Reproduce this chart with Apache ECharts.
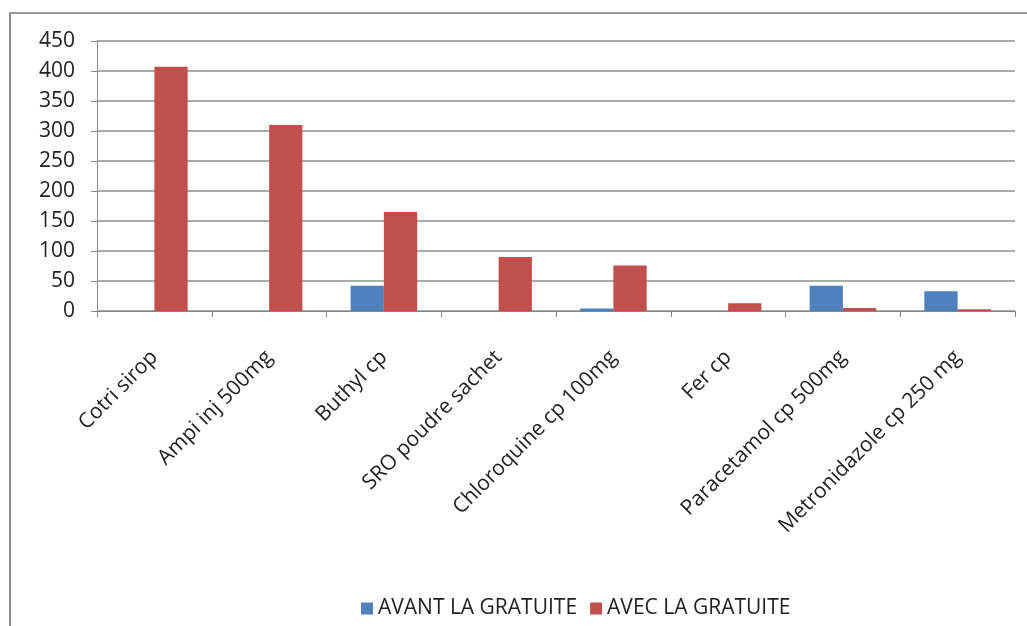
<!DOCTYPE html>
<html>
<head>
<meta charset="utf-8">
<script src="https://cdn.jsdelivr.net/npm/echarts@6/dist/echarts.min.js"></script>
<style>
  html, body { margin: 0; padding: 0; background: #fff; }
  #chart { width: 1027px; height: 626px; }
</style>
</head>
<body>
<div id="chart"></div>
<script>
// Medicines dispensed before and after free care
const categories = [
  'Cotri sirop', 'Ampi inj 500mg', 'Buthyl cp', 'SRO poudre sachet',
  'Chloroquine cp 100mg', 'Fer cp', 'Paracetamol cp 500mg', 'Metronidazole cp 250 mg'
];
const avantGratuite = [0, 0, 42, 0, 4, 0, 42, 33];
const avecGratuite = [407, 310, 165, 90, 76, 13, 5, 3];
const yTicks = { min: 0, max: 450, interval: 50 };

const font = '"Open Sans", Lato, sans-serif';
const chart = echarts.init(document.getElementById('chart'));
chart.setOption({
  animation: false,
  textStyle: { fontFamily: font },
  graphic: [
    { type: 'rect', shape: { x: 9, y: 12, width: 2, height: 614 }, style: { fill: '#8c8c8c' } },
    { type: 'rect', shape: { x: 9, y: 12, width: 1018, height: 2 }, style: { fill: '#9a9a9a' } }
  ],
  grid: { left: 97, right: 12, top: 41, bottom: 315, containLabel: false },
  legend: {
    bottom: 2,
    left: 356,
    itemWidth: 12,
    itemHeight: 12,
    itemGap: 13,
    icon: 'rect',
    textStyle: { fontSize: 21, color: '#222', fontFamily: font },
    data: ['AVANT LA GRATUITE', 'AVEC LA GRATUITE']
  },
  xAxis: {
    type: 'category',
    data: categories,
    axisLine: { lineStyle: { color: '#868686', width: 1 } },
    axisTick: { show: true, length: 6, lineStyle: { color: '#868686' } },
    axisLabel: { rotate: 45, fontSize: 21, color: '#222', margin: 43, interval: 0, fontFamily: font }
  },
  yAxis: {
    type: 'value',
    min: yTicks.min,
    max: yTicks.max,
    interval: yTicks.interval,
    axisLine: { show: true, lineStyle: { color: '#868686', width: 1 } },
    axisTick: { show: true, length: 6, lineStyle: { color: '#868686' } },
    splitLine: { lineStyle: { color: '#8e8e8e', width: 1.5 } },
    axisLabel: { fontSize: 21, color: '#222', margin: 22, fontFamily: font }
  },
  series: [
    {
      name: 'AVANT LA GRATUITE',
      type: 'bar',
      data: avantGratuite,
      barGap: '0%',
      barCategoryGap: '42%',
      itemStyle: { color: '#4F81BD' }
    },
    {
      name: 'AVEC LA GRATUITE',
      type: 'bar',
      data: avecGratuite,
      barGap: '0%',
      barCategoryGap: '42%',
      itemStyle: { color: '#C0504D' }
    }
  ]
});
</script>
</body>
</html>
